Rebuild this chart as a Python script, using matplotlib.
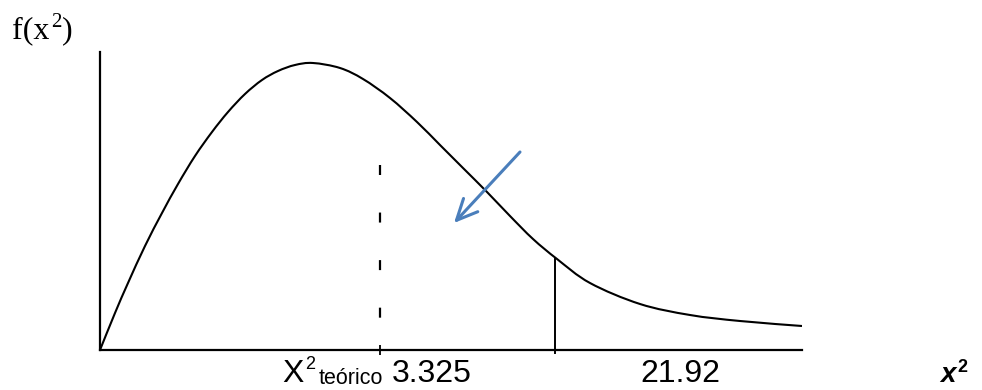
import matplotlib
matplotlib.use("Agg")
import matplotlib.pyplot as plt
from matplotlib.path import Path
from matplotlib.patches import PathPatch

# curve (axes units: pixels from the lower-left corner)
curve_x = [0, 15, 28, 45, 62, 78, 95, 112, 128, 145, 162, 178, 195, 213, 240,
           263, 290, 317, 340, 363, 387, 410, 433, 457, 490, 540, 590, 640, 702]
curve_y = [0, 37, 67, 104, 137, 166, 194, 218, 238, 256, 270, 279, 285, 287,
           282, 271, 252, 228, 205, 182, 158, 134, 111, 91, 67, 46, 35, 29, 24]

x_teorico = 280      # dashed line
x_calc = 455         # solid line
y_calc = 91
dash_top = 185
arrow_start = (420, 198)
arrow_end = (354, 127)

W, H = 982, 390
fig = plt.figure(figsize=(W / 100, H / 100), dpi=100)
ax = fig.add_axes([100 / W, 40 / H, 702 / W, 298 / H])
ax.set_xlim(0, 702)
ax.set_ylim(0, 298)

# smooth bezier through the read points (catmull-rom control points)
verts = [(curve_x[0], curve_y[0])]
codes = [Path.MOVETO]
n = len(curve_x)
for i in range(n - 1):
    x0, y0 = curve_x[max(i - 1, 0)], curve_y[max(i - 1, 0)]
    x1, y1 = curve_x[i], curve_y[i]
    x2, y2 = curve_x[i + 1], curve_y[i + 1]
    x3, y3 = curve_x[min(i + 2, n - 1)], curve_y[min(i + 2, n - 1)]
    verts += [(x1 + (x2 - x0) / 6, y1 + (y2 - y0) / 6),
              (x2 - (x3 - x1) / 6, y2 - (y3 - y1) / 6),
              (x2, y2)]
    codes += [Path.CURVE4] * 3
ax.add_patch(PathPatch(Path(verts, codes), fill=False, edgecolor="black",
                       lw=1.5))

# dashed line at the theoretical value
ax.plot([x_teorico, x_teorico], [dash_top, 32], color="black", lw=1.6,
        dashes=(4.5, 16.9))
# solid line at the computed value
ax.plot([x_calc, x_calc], [y_calc, -3], color="black", lw=1.4, clip_on=False)

ax.annotate("", xy=arrow_end, xytext=arrow_start,
            arrowprops=dict(arrowstyle="->, head_length=1.5, head_width=0.7",
                            mutation_scale=10, color="#4a7ebb", lw=2.2,
                            shrinkA=0, shrinkB=0))

for s in ["top", "right"]:
    ax.spines[s].set_visible(False)
for s in ["left", "bottom"]:
    ax.spines[s].set_linewidth(1.6)
ax.set_yticks([])
ax.set_xticks([x_teorico])
ax.set_xticklabels([])
ax.tick_params(axis="x", direction="inout", length=6.5, width=1.3)


def px(x, y, s, size, **kw):
    fig.text(x / W, 1 - y / H, s, fontsize=size, va="baseline", ha="left", **kw)


serif = "Liberation Serif"
sans = "Liberation Sans"
px(12, 38, "f(x", 23, family=serif)
px(51, 27, "2", 15, family=serif)
px(62, 38, ")", 23, family=serif)

px(282, 382, "X", 23, family=sans)
px(305, 369, "2", 13, family=sans)
px(319, 384, "teórico", 15.5, family=sans)
px(392, 382, "3.325", 23, family=sans)
px(640, 382, "21.92", 23, family=sans)

px(940, 382, "x", 20, family=sans, weight="bold", style="italic")
px(957, 372, "2", 13, family=sans, weight="bold")

fig.savefig("out.png", dpi=100)
